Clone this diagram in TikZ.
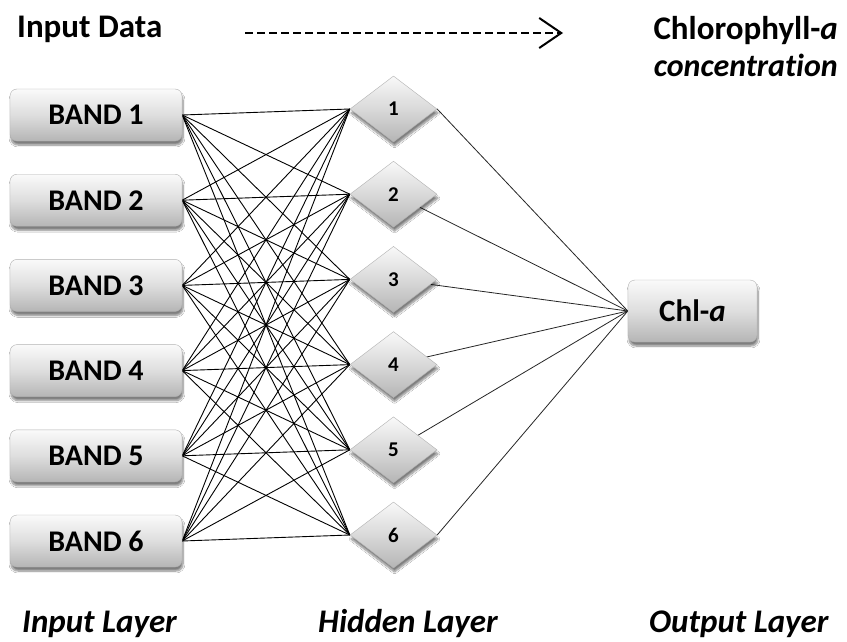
\documentclass[tikz,border=0pt]{standalone}
\usepackage{fontspec}
\setmainfont{Carlito}[Ligatures={NoCommon}]
\usetikzlibrary{shapes.geometric,shadows.blur,arrows.meta,backgrounds}

\tikzset{
  bandbox/.style={draw=gray!60, line width=0.4pt, rounded corners=7pt,
    minimum width=172pt, minimum height=52pt, inner sep=0pt,
    top color=gray!4, bottom color=gray!58, middle color=gray!26,
    blur shadow={shadow xshift=1pt, shadow yshift=-4pt, shadow blur steps=8, shadow opacity=50},
    font=\fontsize{30}{30}\selectfont\bfseries},
  outbox/.style={bandbox, minimum width=129pt, minimum height=62pt,
    font=\fontsize{31}{31}\selectfont\bfseries},
  hidnode/.style={diamond, draw=gray!60, line width=0.4pt,
    minimum width=87pt, minimum height=66pt, inner sep=0pt,
    top color=gray!5, bottom color=gray!58, middle color=gray!30,
    blur shadow={shadow xshift=1pt, shadow yshift=-4pt, shadow blur steps=8, shadow opacity=50},
    font=\fontsize{21}{21}\selectfont\bfseries},
  conn/.style={black, line width=0.9pt},
  outconn/.style={black!85, line width=0.8pt},
  title/.style={inner sep=0pt, font=\fontsize{33}{37}\selectfont\bfseries},
  subtitle/.style={inner sep=0pt, font=\fontsize{32}{37}\selectfont\bfseries\itshape},
  layertitle/.style={inner sep=0pt, font=\fontsize{33}{37}\selectfont\bfseries\itshape},
}

\begin{document}
\begin{tikzpicture}[x=1pt, y=-1pt]
  \useasboundingbox (0,0) rectangle (847,642);

  % input bands
  \foreach \i in {1,...,6}
    \node[bandbox] (b\i) at (96, {115+85.2*(\i-1)}) {BAND \i};

  % hidden neurons
  \foreach \j in {1,...,6}
    \node[hidnode] (h\j) at (393.5, {109+85.2*(\j-1)}) {\j};

  % output neuron
  \node[outbox] (out) at (692.5, 311) {Chl-\textit{a}};

  % white page and fully connected weights, behind the neurons
  \begin{scope}[on background layer]
    \fill[white] (0,0) rectangle (847,642);
    \foreach \i in {1,...,6}
      \foreach \j in {1,...,6}
        \draw[conn] (b\i.east) -- (h\j.west);
    \draw[outconn] (h1.east) -- (out.west);
    \foreach \j in {2,...,5}
      \draw[outconn] (h\j.center) -- (out.west);
    \draw[outconn] (h6.east) -- (out.west);
  \end{scope}

  % headings
  \node[title, anchor=base west] (inlbl) at (17,38) {Input Data};
  \node[title, anchor=base east] (chl1) at (838,40) {Chlorophyll-\textit{a}};
  \node[subtitle, anchor=base east] (chl2) at (838,77) {concentration};

  \coordinate (arrS) at (245,33);
  \coordinate (arrE) at (563,33);
  \draw[line width=2pt, dash pattern=on 8pt off 4pt,
        -{Straight Barb[length=22pt, width=30pt, line width=2pt]}] (arrS) -- (arrE);

  % layer captions
  \node[layertitle, anchor=base west] (lin) at (22,632) {Input Layer};
  \node[layertitle, anchor=base west] (lhid) at (318,632) {Hidden Layer};
  \node[layertitle, anchor=base west] (lout) at (649,632) {Output Layer};
\end{tikzpicture}
\end{document}
